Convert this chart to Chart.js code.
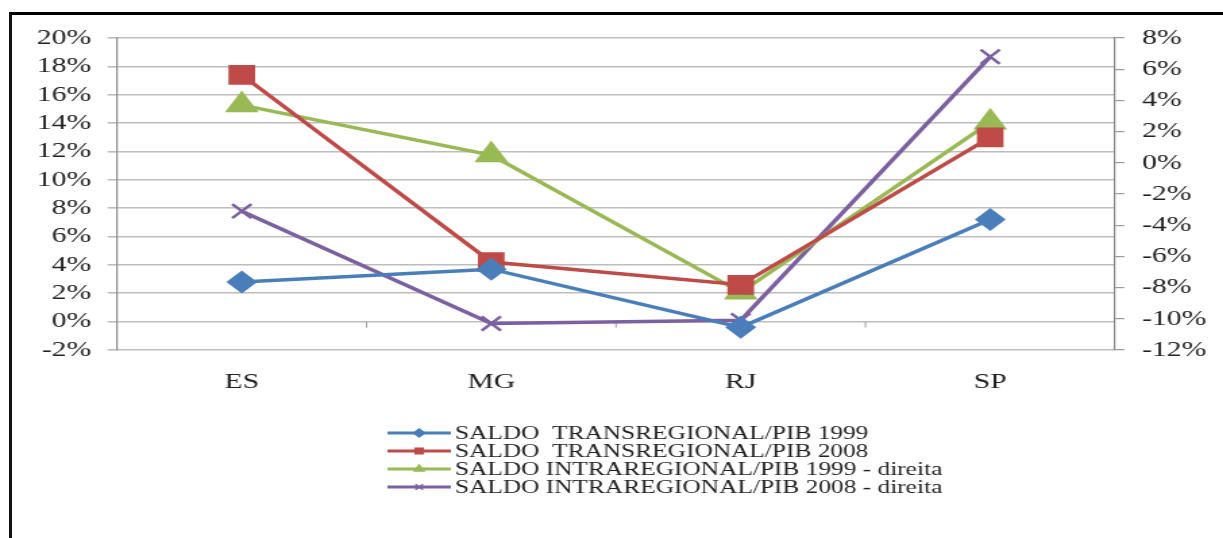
<!DOCTYPE html>
<html>
<head>
<meta charset="utf-8">
<script src="https://cdn.jsdelivr.net/npm/chart.js@4.4.1/dist/chart.umd.min.js"></script>
<style>
  html, body { margin: 0; padding: 0; background: #fff; }
  body { width: 1223px; height: 538px; position: relative; overflow: hidden; }
  #frame { position: absolute; left: 9px; top: 12px; right: -5px; bottom: -5px;
           border-top: 3px solid #000; border-left: 3px solid #111; }
  #wrap { position: absolute; left: 0; top: 0; width: 906px; height: 538px;
          transform: scaleX(1.35); transform-origin: 0 0; }
</style>
</head>
<body>
<div id="frame"></div>
<div id="wrap"><canvas id="grafico" width="906" height="538"></canvas></div>
<script>
// the original picture is stretched sideways, so the canvas is drawn narrow and widened by css
var estados = ["ES", "MG", "RJ", "SP"];

var trans1999 = [2.8, 3.7, -0.4, 7.2];
var trans2008 = [17.4, 4.2, 2.6, 13.0];
var intra1999 = [3.7, 0.5, -8.3, 2.6];     // eixo da direita
var intra2008 = [-3.1, -10.3, -10.1, 6.8]; // eixo da direita

var rotulos = [
    "SALDO  TRANSREGIONAL/PIB 1999",
    "SALDO  TRANSREGIONAL/PIB 2008",
    "SALDO INTRAREGIONAL/PIB 1999 - direita",
    "SALDO INTRAREGIONAL/PIB 2008 - direita"
];

var cores = ["#4A7EBB", "#BE4B48", "#98B954", "#7D60A0"];
var fonte = '"Liberation Serif", "Times New Roman", serif';

// little category ticks where the horizontal axis crosses 0% (excel style)
var marcasZero = {
    id: 'marcasZero',
    beforeDatasetsDraw: function (chart) {
        var xs = chart.scales.x, ys = chart.scales.y;
        var y0 = ys.getPixelForValue(0);
        var ctx = chart.ctx;
        ctx.save();
        ctx.strokeStyle = '#9a9a9a';
        ctx.lineWidth = 1;
        for (var i = 0; i < estados.length - 1; i++) {
            var xm = (xs.getPixelForValue(i) + xs.getPixelForValue(i + 1)) / 2;
            ctx.beginPath();
            ctx.moveTo(xm, y0);
            ctx.lineTo(xm, y0 + 6);
            ctx.stroke();
        }
        ctx.restore();
    }
};

// legend drawn under the chart, one line per series
var legendaSerie = {
    id: 'legendaSerie',
    afterDraw: function (chart) {
        var ctx = chart.ctx;
        var x0 = 287, comp = 47, y0 = 433, passo = 18;
        ctx.save();
        ctx.font = '18.8px ' + fonte;
        ctx.textBaseline = 'middle';
        ctx.textAlign = 'left';
        chart.data.datasets.forEach(function (ds, i) {
            var y = y0 + i * passo;
            ctx.strokeStyle = ds.borderColor;
            ctx.fillStyle = ds.borderColor;
            ctx.lineWidth = 3;
            ctx.beginPath();
            ctx.moveTo(x0, y);
            ctx.lineTo(x0 + comp, y);
            ctx.stroke();
            if (Chart.helpers && Chart.helpers.drawPoint) {
                ctx.lineWidth = 1.5;
                Chart.helpers.drawPoint(ctx, {pointStyle: ds.pointStyle, radius: 4, borderWidth: 1.5, rotation: 0},
                    x0 + comp / 2, y);
            }
            ctx.fillStyle = '#222';
            ctx.fillText(ds.label, x0 + comp + 3, y + 1);
        });
        ctx.restore();
    }
};

var ctx = document.getElementById("grafico").getContext('2d');
var grafico = new Chart(ctx, {
    type: 'line',
    data: {
        labels: estados,
        datasets: [{
            label: rotulos[0],
            data: trans1999,
            yAxisID: 'y',
            borderColor: cores[0],
            backgroundColor: cores[0],
            pointStyle: 'rectRot',
            pointRadius: 9,
            borderWidth: 3.5
        }, {
            label: rotulos[1],
            data: trans2008,
            yAxisID: 'y',
            borderColor: cores[1],
            backgroundColor: cores[1],
            pointStyle: 'rect',
            pointRadius: 11.5,
            borderWidth: 3.5
        }, {
            label: rotulos[2],
            data: intra1999,
            yAxisID: 'y1',
            borderColor: cores[2],
            backgroundColor: cores[2],
            pointStyle: 'triangle',
            pointRadius: 11,
            borderWidth: 3.5
        }, {
            label: rotulos[3],
            data: intra2008,
            yAxisID: 'y1',
            borderColor: cores[3],
            backgroundColor: cores[3],
            pointStyle: 'crossRot',
            pointRadius: 10,
            pointBorderWidth: 2.5,
            borderWidth: 3.5
        }]
    },
    options: {
        responsive: false,
        animation: false,
        layout: { padding: { top: 38, left: 0, right: 0, bottom: 0 } },
        plugins: {
            legend: { display: false },
            tooltip: { enabled: false }
        },
        scales: {
            x: {
                offset: true,
                grid: { display: false, drawTicks: false },
                border: { display: false },
                ticks: { color: '#222', font: { family: fonte, size: 22 }, padding: 19 },
                afterFit: function (s) { s.height = 188; }
            },
            y: {
                position: 'left',
                min: -2, max: 20,
                ticks: { stepSize: 2, autoSkip: false, crossAlign: 'near', color: '#222',
                         font: { family: fonte, size: 22 }, padding: 12,
                         callback: function (v) { return v + '%'; } },
                grid: { color: '#bdbdbd', lineWidth: 1.6, tickLength: 7 },
                border: { display: true, color: '#8a8a8a', width: 1.2 },
                afterFit: function (s) { s.width = 86.7; }
            },
            y1: {
                position: 'right',
                min: -12, max: 8,
                ticks: { stepSize: 2, autoSkip: false, crossAlign: 'near', color: '#222',
                         font: { family: fonte, size: 22 }, padding: 13,
                         callback: function (v) { return v + '%'; } },
                grid: { drawOnChartArea: false, color: '#9a9a9a', lineWidth: 1.2, tickLength: 7 },
                border: { display: true, color: '#8a8a8a', width: 1.2 },
                afterFit: function (s) { s.width = 80.1; }
            }
        }
    },
    plugins: [marcasZero, legendaSerie]
});
</script>
</body>
</html>
